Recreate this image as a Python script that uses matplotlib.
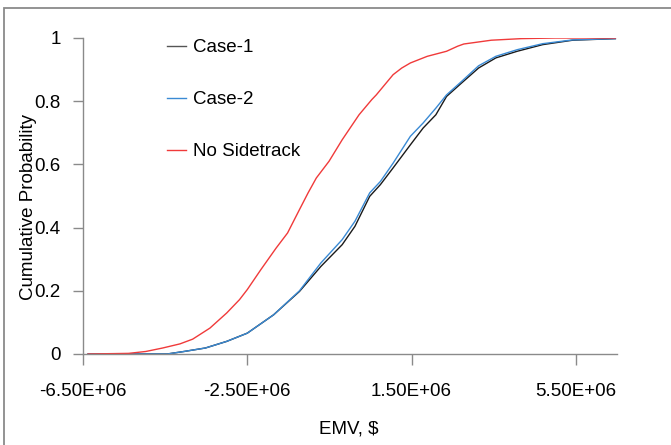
import matplotlib
matplotlib.use("Agg")
import matplotlib.pyplot as plt
from matplotlib.patches import Rectangle
import numpy as np

plt.rcParams['font.family'] = ['Liberation Sans', 'DejaVu Sans']

# EMV values in units of 1e6 $
red_x = [-6.375, -5.39, -4.97, -4.56, -4.14, -3.83, -3.41, -3.0, -2.69, -2.5, -2.17, -1.80, -1.52,
         -1.23, -1.02, -0.82, -0.51, -0.19, 0.22, 0.53, 0.64, 1.05, 1.26, 1.47, 1.88, 2.35, 2.62,
         2.77, 3.44, 4.17, 5.0, 6.46]
red_y = [0.0, 0.002, 0.008, 0.019, 0.032, 0.047, 0.082, 0.13, 0.172, 0.204, 0.267, 0.335, 0.383,
         0.457, 0.51, 0.557, 0.61, 0.678, 0.757, 0.805, 0.82, 0.884, 0.905, 0.921, 0.942, 0.958, 0.974,
         0.981, 0.993, 0.998, 1.0, 1.0]

case1_x = [-6.375, -4.45, -4.04, -3.52, -3.0, -2.5, -1.86, -1.23, -0.71, -0.19, 0.12, 0.48, 0.74,
           1.05, 1.47, 1.78, 2.09, 2.35, 2.72, 3.13, 3.55, 4.07, 4.69, 5.42, 6.46]
case1_y = [0.0, 0.0, 0.008, 0.019, 0.040, 0.066, 0.124, 0.198, 0.277, 0.346, 0.404, 0.499, 0.536,
           0.589, 0.662, 0.715, 0.757, 0.815, 0.858, 0.905, 0.937, 0.958, 0.979, 0.993, 0.998]

case2_x = [-6.375, -4.45, -4.04, -3.52, -3.0, -2.5, -1.86, -1.23, -0.71, -0.19, 0.12, 0.48, 0.74,
           1.05, 1.47, 1.78, 2.09, 2.35, 2.72, 3.13, 3.55, 4.07, 4.69, 5.42, 6.46]
case2_y = [0.0, 0.0, 0.008, 0.019, 0.040, 0.066, 0.124, 0.200, 0.288, 0.362, 0.42, 0.51, 0.546,
           0.604, 0.689, 0.731, 0.778, 0.82, 0.863, 0.912, 0.942, 0.963, 0.982, 0.994, 0.998]

xticks = [-6.5, -2.5, 1.5, 5.5]
xtick_labels = ["-6.50E+06", "-2.50E+06", "1.50E+06", "5.50E+06"]
yticks = [0, 0.2, 0.4, 0.6, 0.8, 1]
ytick_labels = ["0", "0.2", "0.4", "0.6", "0.8", "1"]

W, H = 671, 445
fig = plt.figure(figsize=(W / 100, H / 100), dpi=100)
ax = fig.add_axes([83 / W, (H - 354) / H, (617 - 83) / W, (354 - 38) / H])

fig.patches.append(Rectangle((3.5 / W, -0.1), 1.2, (H - 7.5) / H + 0.1,
                             transform=fig.transFigure, fill=False,
                             edgecolor='#8a8a8a', linewidth=1.3))

ax.plot(np.array(case1_x), case1_y, color='#1a1a1a', lw=1.0, label='Case-1')
ax.plot(np.array(case2_x), case2_y, color='#3a8ad4', lw=1.0, label='Case-2')
ax.plot(np.array(red_x), red_y, color='#f03a3a', lw=1.0, label='No Sidetrack')

ax.set_xlim(-6.5, 6.5)
ax.set_ylim(0, 1)
ax.set_xticks(xticks)
ax.set_xticklabels(xtick_labels)
ax.set_yticks(yticks)
ax.set_yticklabels(ytick_labels)

for s in ['top', 'right']:
    ax.spines[s].set_visible(False)
for s in ['left', 'bottom']:
    ax.spines[s].set_color('#8a8a8a')
    ax.spines[s].set_linewidth(1.0)

ax.tick_params(axis='x', direction='out', length=8, width=1, color='#8a8a8a',
               labelsize=13.5, pad=13)
ax.tick_params(axis='y', direction='out', length=7, width=1, color='#8a8a8a',
               labelsize=13.5, pad=9)

ax.set_xlabel('EMV, $', fontsize=13.5)
ax.xaxis.set_label_coords(0.498, -0.212)
ax.set_ylabel('Cumulative Probability', fontsize=13.5)
ax.yaxis.set_label_coords(-0.087, 0.465)

leg = ax.legend(loc='upper left', bbox_to_anchor=(167 / W, (H - 39) / H),
                bbox_transform=fig.transFigure, frameon=False, fontsize=13.5,
                handlelength=1.0, handletextpad=0.4, labelspacing=1.86, borderpad=0,
                borderaxespad=0)
leg.get_lines()[0].set_color('#555555')

fig.savefig('out.png', dpi=100)
